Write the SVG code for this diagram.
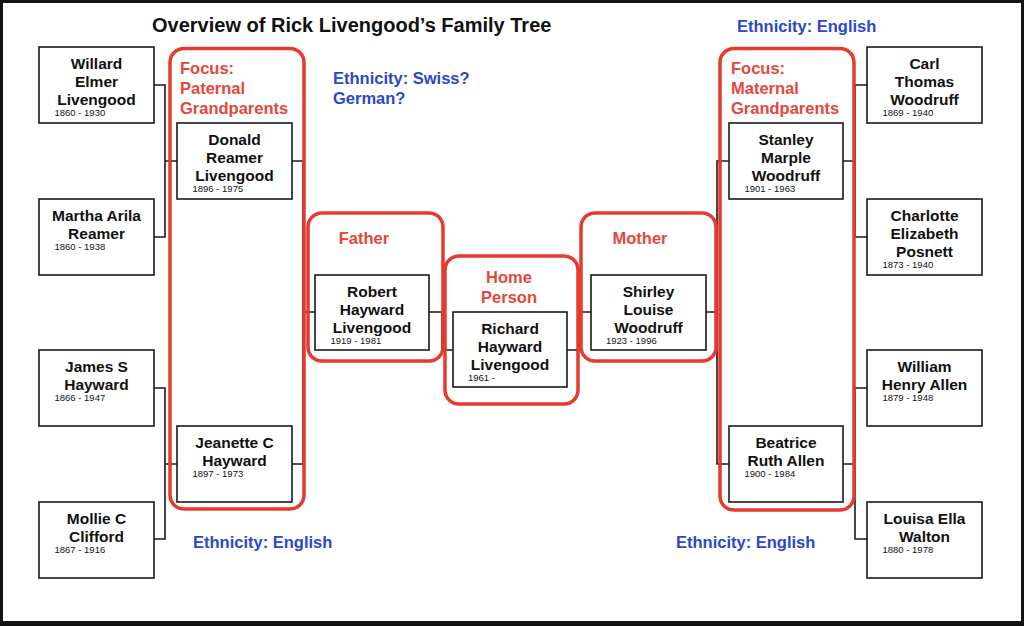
<svg xmlns="http://www.w3.org/2000/svg" width="1024" height="626" viewBox="0 0 1024 626">
<style>
.box{fill:#fff;stroke:#1a1a1a;stroke-width:1.6}
.nm{font-family:"Liberation Sans",Arial,sans-serif;font-weight:bold;font-size:15.5px;fill:#111;text-anchor:middle}
.dt{font-family:"Liberation Sans",Arial,sans-serif;font-size:9.5px;fill:#111}
.frame{fill:none;stroke:#e53a2d;stroke-width:3.5}
.rl{font-family:"Liberation Sans",Arial,sans-serif;font-weight:bold;font-size:16.5px;fill:#e5473b}
.bl{font-family:"Liberation Sans",Arial,sans-serif;font-weight:bold;font-size:16.5px;fill:#2a48cc}
.title{font-family:"Liberation Sans",Arial,sans-serif;font-weight:bold;font-size:20px;fill:#111}
.conn path{fill:none;stroke:#1a1a1a;stroke-width:1.6}
</style>
<rect x="0" y="0" width="1024" height="626" fill="#111"/>
<rect x="3" y="3" width="1018" height="618" fill="#fff"/>
<text class="title" x="152" y="32">Overview of Rick Livengood’s Family Tree</text>
<g id="ethnicity-labels">
<text class="bl" x="737" y="32">Ethnicity: English</text>
<text class="bl" x="333" y="84">Ethnicity: Swiss?</text>
<text class="bl" x="333" y="104">German?</text>
<text class="bl" x="193" y="548">Ethnicity: English</text>
<text class="bl" x="676" y="548">Ethnicity: English</text>
</g>
<g id="connectors" class="conn">
<path d="M154,85 H165 V237 H154 M165,161 H177"/>
<path d="M154,388 H165 V539 H154 M165,464 H177"/>
<path d="M292,161 H303 V464 H292 M303,312 H315"/>
<path d="M429,312 H442 V350 H453"/>
<path d="M567,350 H580 V312 H591"/>
<path d="M706,312 H717 M729,161 H717 V464 H729"/>
<path d="M843,161 H855 M867,85 H855 V237 H867"/>
<path d="M843,464 H855 M867,388 H855 V539 H867"/>
</g>
<g id="group-paternal">
<rect class="frame" x="170" y="48.5" width="134" height="460.5" rx="14"/>
<text class="rl" x="180" y="74">Focus:</text>
<text class="rl" x="180" y="94">Paternal</text>
<text class="rl" x="180" y="114">Grandparents</text>
</g>
<g id="group-maternal">
<rect class="frame" x="720" y="48.5" width="134" height="461.5" rx="14"/>
<text class="rl" x="731" y="74">Focus:</text>
<text class="rl" x="731" y="94">Maternal</text>
<text class="rl" x="731" y="114">Grandparents</text>
</g>
<g id="group-father">
<rect class="frame" x="308" y="213" width="135" height="148" rx="14"/>
<text class="rl" x="364" y="244" text-anchor="middle">Father</text>
</g>
<g id="group-mother">
<rect class="frame" x="581" y="213" width="135" height="148" rx="14"/>
<text class="rl" x="640" y="244" text-anchor="middle">Mother</text>
</g>
<g id="group-home">
<rect class="frame" x="445" y="256" width="133" height="148" rx="14"/>
<text class="rl" x="509" y="283" text-anchor="middle">Home</text>
<text class="rl" x="509" y="303" text-anchor="middle">Person</text>
</g>
<g id="willard">
<rect class="box" x="39" y="47" width="115" height="76"/>
<text class="nm" x="96.5" y="68.5">Willard</text>
<text class="nm" x="96.5" y="86.5">Elmer</text>
<text class="nm" x="96.5" y="104.5">Livengood</text>
<text class="dt" x="54.5" y="116">1860 - 1930</text>
</g>
<g id="martha">
<rect class="box" x="39" y="199" width="115" height="76"/>
<text class="nm" x="96.5" y="220.5">Martha Arila</text>
<text class="nm" x="96.5" y="238.5">Reamer</text>
<text class="dt" x="54.5" y="250">1860 - 1938</text>
</g>
<g id="james">
<rect class="box" x="39" y="350" width="115" height="76"/>
<text class="nm" x="96.5" y="371.5">James S</text>
<text class="nm" x="96.5" y="389.5">Hayward</text>
<text class="dt" x="54.5" y="401">1866 - 1947</text>
</g>
<g id="mollie">
<rect class="box" x="39" y="502" width="115" height="76"/>
<text class="nm" x="96.5" y="523.5">Mollie C</text>
<text class="nm" x="96.5" y="541.5">Clifford</text>
<text class="dt" x="54.5" y="553">1867 - 1916</text>
</g>
<g id="donald">
<rect class="box" x="177" y="123" width="115" height="76"/>
<text class="nm" x="234.5" y="144.5">Donald</text>
<text class="nm" x="234.5" y="162.5">Reamer</text>
<text class="nm" x="234.5" y="180.5">Livengood</text>
<text class="dt" x="192.5" y="192">1896 - 1975</text>
</g>
<g id="jeanette">
<rect class="box" x="177" y="426" width="115" height="76"/>
<text class="nm" x="234.5" y="447.5">Jeanette C</text>
<text class="nm" x="234.5" y="465.5">Hayward</text>
<text class="dt" x="192.5" y="477">1897 - 1973</text>
</g>
<g id="robert">
<rect class="box" x="315" y="275" width="114" height="75"/>
<text class="nm" x="372" y="296.5">Robert</text>
<text class="nm" x="372" y="314.5">Hayward</text>
<text class="nm" x="372" y="332.5">Livengood</text>
<text class="dt" x="330.5" y="344">1919 - 1981</text>
</g>
<g id="richard">
<rect class="box" x="453" y="312" width="114" height="75"/>
<text class="nm" x="510" y="333.5">Richard</text>
<text class="nm" x="510" y="351.5">Hayward</text>
<text class="nm" x="510" y="369.5">Livengood</text>
<text class="dt" x="468" y="381">1961 -</text>
</g>
<g id="shirley">
<rect class="box" x="591" y="275" width="115" height="75"/>
<text class="nm" x="648.5" y="296.5">Shirley</text>
<text class="nm" x="648.5" y="314.5">Louise</text>
<text class="nm" x="648.5" y="332.5">Woodruff</text>
<text class="dt" x="606" y="344">1923 - 1996</text>
</g>
<g id="stanley">
<rect class="box" x="729" y="123" width="114" height="76"/>
<text class="nm" x="786" y="144.5">Stanley</text>
<text class="nm" x="786" y="162.5">Marple</text>
<text class="nm" x="786" y="180.5">Woodruff</text>
<text class="dt" x="744.5" y="192">1901 - 1963</text>
</g>
<g id="beatrice">
<rect class="box" x="729" y="426" width="114" height="76"/>
<text class="nm" x="786" y="447.5">Beatrice</text>
<text class="nm" x="786" y="465.5">Ruth Allen</text>
<text class="dt" x="744.5" y="477">1900 - 1984</text>
</g>
<g id="carl">
<rect class="box" x="867" y="47" width="115" height="76"/>
<text class="nm" x="924.5" y="68.5">Carl</text>
<text class="nm" x="924.5" y="86.5">Thomas</text>
<text class="nm" x="924.5" y="104.5">Woodruff</text>
<text class="dt" x="882.5" y="116">1869 - 1940</text>
</g>
<g id="charlotte">
<rect class="box" x="867" y="199" width="115" height="76"/>
<text class="nm" x="924.5" y="220.5">Charlotte</text>
<text class="nm" x="924.5" y="238.5">Elizabeth</text>
<text class="nm" x="924.5" y="256.5">Posnett</text>
<text class="dt" x="882.5" y="268">1873 - 1940</text>
</g>
<g id="william">
<rect class="box" x="867" y="350" width="115" height="76"/>
<text class="nm" x="924.5" y="371.5">William</text>
<text class="nm" x="924.5" y="389.5">Henry Allen</text>
<text class="dt" x="882.5" y="401">1879 - 1948</text>
</g>
<g id="louisa">
<rect class="box" x="867" y="502" width="115" height="76"/>
<text class="nm" x="924.5" y="523.5">Louisa Ella</text>
<text class="nm" x="924.5" y="541.5">Walton</text>
<text class="dt" x="882.5" y="553">1880 - 1978</text>
</g>
</svg>
